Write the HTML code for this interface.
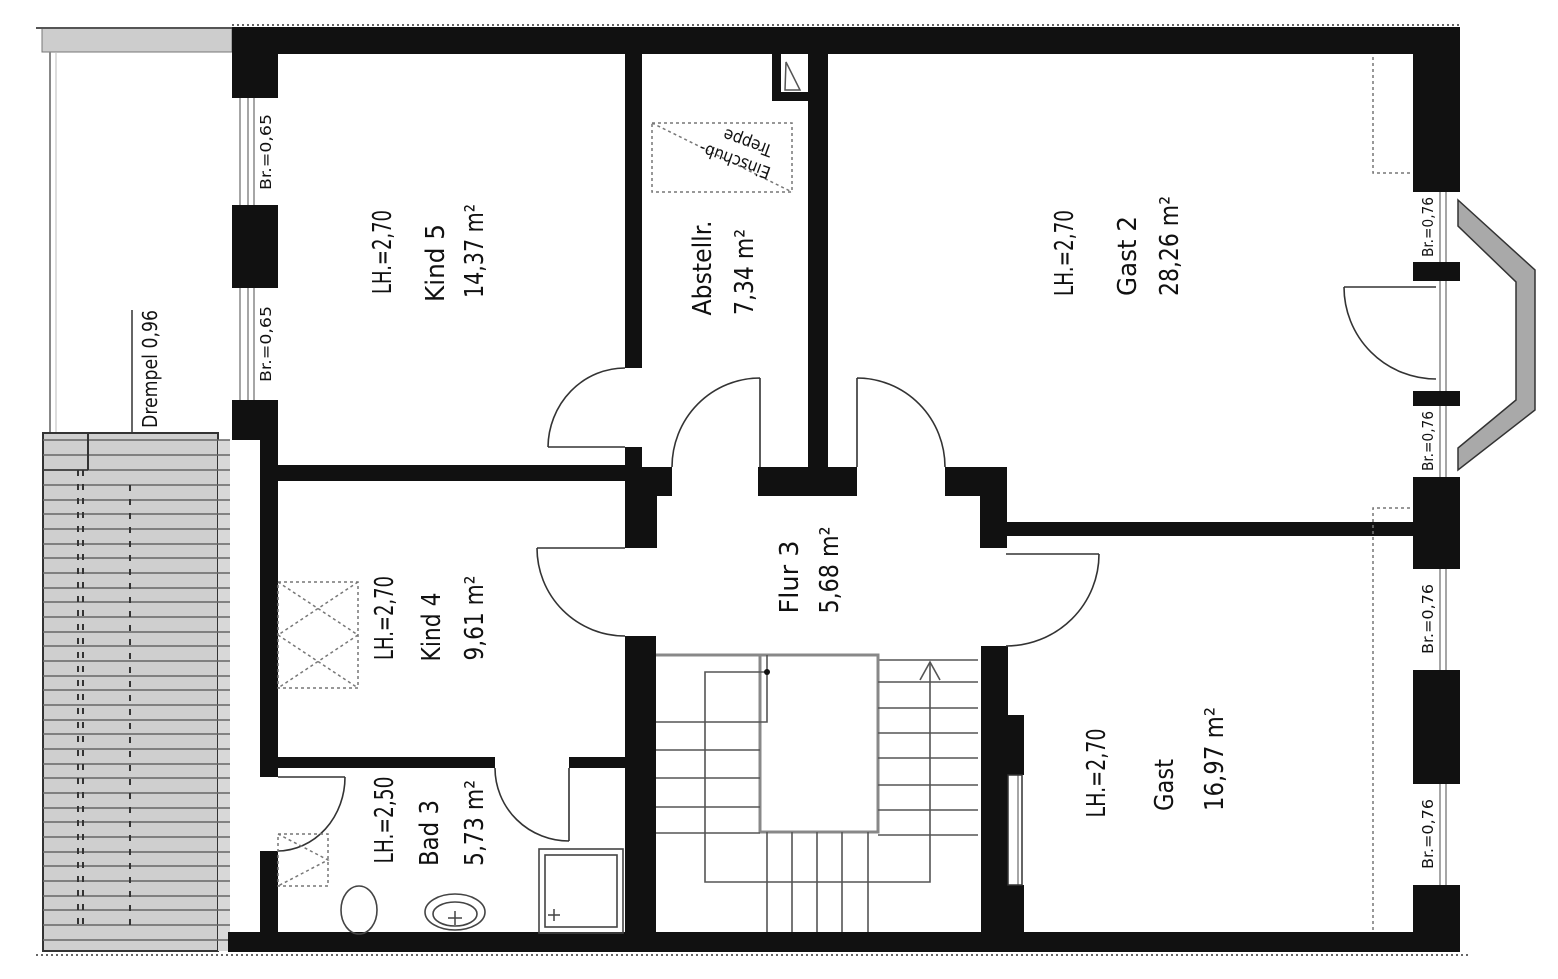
<!DOCTYPE html>
<html><head><meta charset="utf-8"><style>
html,body{margin:0;padding:0;background:#fff}
svg{display:block}
text{font-family:"Liberation Sans Narrow","DejaVu Sans Condensed","Liberation Sans",sans-serif;fill:#111}
</style></head><body>
<svg width="1558" height="979" viewBox="0 0 1558 979" xmlns="http://www.w3.org/2000/svg">
<rect width="1558" height="979" fill="#fff"/>
<!-- left roof area -->
<rect x="42" y="28" width="190" height="24" fill="#cdcdcd" stroke="#777" stroke-width="1"/>
<line x1="36" y1="28" x2="232" y2="28" stroke="#555" stroke-width="2"/>
<line x1="50" y1="52" x2="50" y2="433" stroke="#888" stroke-width="2"/>
<line x1="56" y1="52" x2="56" y2="433" stroke="#bbb" stroke-width="1"/>
<rect x="43" y="433" width="175" height="518" fill="#cfcfcf" stroke="#333" stroke-width="2"/>
<rect x="218" y="440" width="12" height="511" fill="#d8d8d8"/>
<g stroke="#666" stroke-width="1.5">
<line x1="43" y1="440" x2="230" y2="440"/><line x1="43" y1="455" x2="230" y2="455"/><line x1="43" y1="470" x2="230" y2="470"/><line x1="43" y1="485" x2="230" y2="485"/><line x1="43" y1="500" x2="230" y2="500"/><line x1="43" y1="514" x2="230" y2="514"/><line x1="43" y1="529" x2="230" y2="529"/><line x1="43" y1="544" x2="230" y2="544"/><line x1="43" y1="558" x2="230" y2="558"/><line x1="43" y1="573" x2="230" y2="573"/><line x1="43" y1="588" x2="230" y2="588"/><line x1="43" y1="602" x2="230" y2="602"/><line x1="43" y1="617" x2="230" y2="617"/><line x1="43" y1="632" x2="230" y2="632"/><line x1="43" y1="646" x2="230" y2="646"/><line x1="43" y1="661" x2="230" y2="661"/><line x1="43" y1="676" x2="230" y2="676"/><line x1="43" y1="690" x2="230" y2="690"/><line x1="43" y1="705" x2="230" y2="705"/><line x1="43" y1="720" x2="230" y2="720"/><line x1="43" y1="734" x2="230" y2="734"/><line x1="43" y1="749" x2="230" y2="749"/><line x1="43" y1="764" x2="230" y2="764"/><line x1="43" y1="778" x2="230" y2="778"/><line x1="43" y1="793" x2="230" y2="793"/><line x1="43" y1="808" x2="230" y2="808"/><line x1="43" y1="822" x2="230" y2="822"/><line x1="43" y1="837" x2="230" y2="837"/><line x1="43" y1="852" x2="230" y2="852"/><line x1="43" y1="866" x2="230" y2="866"/><line x1="43" y1="881" x2="230" y2="881"/><line x1="43" y1="896" x2="230" y2="896"/><line x1="43" y1="910" x2="230" y2="910"/><line x1="43" y1="925" x2="230" y2="925"/><line x1="43" y1="940" x2="230" y2="940"/>
</g>
<g stroke="#333" stroke-width="2" stroke-dasharray="6 8">
<line x1="78" y1="470" x2="78" y2="930"/><line x1="83" y1="470" x2="83" y2="930"/><line x1="130" y1="485" x2="130" y2="930"/>
</g>
<line x1="88" y1="433" x2="88" y2="470" stroke="#333" stroke-width="2"/>
<line x1="43" y1="470" x2="88" y2="470" stroke="#333" stroke-width="1.5"/>
<!-- Drempel -->
<line x1="132" y1="310" x2="132" y2="432" stroke="#333" stroke-width="1.5"/>
<text transform="translate(150,369) rotate(-90)" text-anchor="middle" dominant-baseline="central" font-size="20" textLength="118" lengthAdjust="spacingAndGlyphs">Drempel  0,96</text>

<!-- dotted outer lines -->
<line x1="232" y1="25" x2="1462" y2="25" stroke="#666" stroke-width="2" stroke-dasharray="2 3"/>
<line x1="36" y1="955" x2="1470" y2="955" stroke="#666" stroke-width="2" stroke-dasharray="2 3"/>

<g fill="#111">
<!-- top and bottom walls -->
<rect x="232" y="27" width="1228" height="27"/>
<rect x="228" y="932" width="1232" height="20"/>
<!-- left wall -->
<rect x="232" y="27" width="46" height="71"/>
<rect x="232" y="205" width="46" height="83"/>
<rect x="232" y="400" width="46" height="40"/>
<rect x="260" y="430" width="18" height="347"/>
<rect x="260" y="851" width="18" height="90"/>
<!-- right wall -->
<rect x="1413" y="27" width="47" height="165"/>
<rect x="1413" y="262" width="47" height="19"/>
<rect x="1413" y="391" width="47" height="15"/>
<rect x="1413" y="477" width="47" height="92"/>
<rect x="1413" y="670" width="47" height="114"/>
<rect x="1413" y="885" width="47" height="67"/>
<!-- interior -->
<rect x="625" y="54" width="17" height="314"/>
<rect x="625" y="447" width="17" height="22"/>
<rect x="278" y="465" width="350" height="16"/>
<polygon points="625,467 672,467 672,496 657,496 657,548 625,548"/>
<rect x="758" y="467" width="99" height="29"/>
<rect x="808" y="54" width="20" height="413"/>
<polygon points="945,467 1007,467 1007,548 980,548 980,496 945,496"/>
<rect x="1007" y="522" width="406" height="14"/>
<rect x="625" y="636" width="31" height="300"/>
<rect x="981" y="646" width="27" height="290"/>
<rect x="1008" y="715" width="16" height="60"/>
<rect x="1008" y="885" width="16" height="50"/>
<rect x="260" y="757" width="235" height="11"/>
<rect x="569" y="757" width="56" height="11"/>
<!-- chimney L -->
<rect x="772" y="54" width="9" height="47"/>
<rect x="772" y="92" width="36" height="9"/>
</g>
<path d="M786,62 L800,90 L785,90 Z" fill="none" stroke="#555" stroke-width="1.5"/>

<!-- windows left -->
<g stroke="#888" stroke-width="1.5">
<line x1="240" y1="98" x2="240" y2="205"/><line x1="248" y1="98" x2="248" y2="205"/><line x1="254" y1="98" x2="254" y2="205"/>
<line x1="240" y1="288" x2="240" y2="400"/><line x1="248" y1="288" x2="248" y2="400"/><line x1="254" y1="288" x2="254" y2="400"/>
<line x1="1440" y1="192" x2="1440" y2="262"/><line x1="1446" y1="192" x2="1446" y2="262"/>
<line x1="1440" y1="281" x2="1440" y2="391"/><line x1="1446" y1="281" x2="1446" y2="391"/>
<line x1="1440" y1="406" x2="1440" y2="477"/><line x1="1446" y1="406" x2="1446" y2="477"/>
<line x1="1440" y1="569" x2="1440" y2="670"/><line x1="1446" y1="569" x2="1446" y2="670"/>
<line x1="1440" y1="784" x2="1440" y2="885"/><line x1="1446" y1="784" x2="1446" y2="885"/>
<line x1="1018" y1="775" x2="1018" y2="885"/>
</g>
<rect x="1008" y="775" width="14" height="110" fill="none" stroke="#333" stroke-width="1.5"/>
<g font-size="15">
<text transform="translate(266,152) rotate(-90)" text-anchor="middle" dominant-baseline="central" textLength="76" lengthAdjust="spacingAndGlyphs">Br.=0,65</text>
<text transform="translate(266,344) rotate(-90)" text-anchor="middle" dominant-baseline="central" textLength="76" lengthAdjust="spacingAndGlyphs">Br.=0,65</text>
<text transform="translate(1428,227) rotate(-90)" text-anchor="middle" dominant-baseline="central" textLength="60" lengthAdjust="spacingAndGlyphs">Br.=0,76</text>
<text transform="translate(1428,441) rotate(-90)" text-anchor="middle" dominant-baseline="central" textLength="60" lengthAdjust="spacingAndGlyphs">Br.=0,76</text>
<text transform="translate(1428,619) rotate(-90)" text-anchor="middle" dominant-baseline="central" textLength="70" lengthAdjust="spacingAndGlyphs">Br.=0,76</text>
<text transform="translate(1428,834) rotate(-90)" text-anchor="middle" dominant-baseline="central" textLength="70" lengthAdjust="spacingAndGlyphs">Br.=0,76</text>
</g>
<!-- bay -->
<polygon points="1458,200 1535,270 1535,410 1458,470 1458,448 1516,400 1516,282 1458,226" fill="#a9a9a9" stroke="#333" stroke-width="1.5"/>

<!-- doors -->
<g fill="none" stroke="#333" stroke-width="1.6">
<path d="M548,447 L625,447 M548,447 A77,80 0 0 1 625,368"/>
<path d="M760,378 L760,467 M672,467 A88,89 0 0 1 760,378"/>
<path d="M857,378 L857,467 M857,378 A88,89 0 0 1 945,467"/>
<path d="M537,548 L625,548 M537,548 A88,88 0 0 0 625,636"/>
<path d="M1006,554 L1099,554 M1099,554 A93,92 0 0 1 1006,646"/>
<path d="M569,768 L569,841 M495,768 A74,73 0 0 0 569,841"/>
<path d="M278,777 L345,777 M345,777 A68,74 0 0 1 278,851"/>
<path d="M1344,287 L1436,287 M1344,287 A92,92 0 0 0 1436,379"/>
</g>

<!-- dashed -->
<g fill="none" stroke="#777" stroke-width="1.5" stroke-dasharray="3 3">
<path d="M1373,57 L1373,173 L1410,173"/>
<path d="M1410,508 L1373,508 L1373,930"/>
<rect x="652" y="123" width="140" height="69"/>
<line x1="652" y1="123" x2="792" y2="192"/>
<rect x="278" y="582" width="80" height="106"/>
<path d="M278,582 L358,635 L278,688 M358,582 L278,635 L358,688"/>
<rect x="278" y="834" width="50" height="52"/>
<path d="M278,834 L328,860 L278,886"/>
</g>
<g font-size="17">
<text transform="translate(735,160) rotate(200)" text-anchor="middle" dominant-baseline="central">Einschub-</text>
<text transform="translate(748,142) rotate(200)" text-anchor="middle" dominant-baseline="central">Treppe</text>
</g>

<!-- stairs -->
<g fill="none" stroke="#555" stroke-width="1.6">
<line x1="656" y1="655" x2="878" y2="655" stroke-width="3" stroke="#888"/>
<line x1="878" y1="660" x2="978" y2="660"/>
<rect x="760" y="655" width="118" height="177" stroke="#888" stroke-width="3"/>
<path d="M767,672 L705,672 L705,882 L930,882 L930,662"/>
<path d="M767,655 L767,722 L656,722"/>
<path d="M920,680 L930,662 L940,680"/>
<line x1="656" y1="750" x2="760" y2="750"/><line x1="656" y1="778" x2="760" y2="778"/><line x1="656" y1="807" x2="760" y2="807"/><line x1="656" y1="833" x2="760" y2="833"/>
<line x1="878" y1="682" x2="978" y2="682"/><line x1="878" y1="708" x2="978" y2="708"/><line x1="878" y1="733" x2="978" y2="733"/><line x1="878" y1="758" x2="978" y2="758"/><line x1="878" y1="785" x2="978" y2="785"/><line x1="878" y1="810" x2="978" y2="810"/><line x1="878" y1="835" x2="978" y2="835"/>
<line x1="767" y1="832" x2="767" y2="932"/><line x1="792" y1="832" x2="792" y2="932"/><line x1="817" y1="832" x2="817" y2="932"/><line x1="842" y1="832" x2="842" y2="932"/><line x1="868" y1="832" x2="868" y2="932"/>
</g>
<circle cx="767" cy="672" r="3" fill="#111"/>

<!-- bath fixtures -->
<g fill="none" stroke="#444" stroke-width="1.6">
<ellipse cx="359" cy="910" rx="18" ry="24"/>
<ellipse cx="455" cy="912" rx="30" ry="18"/>
<ellipse cx="455" cy="914" rx="22" ry="12"/>
<rect x="539" y="849" width="84" height="84"/>
<rect x="545" y="855" width="72" height="72"/>
</g>
<path d="M548,915 h12 M554,909 v12" stroke="#444" stroke-width="1.5"/>
<path d="M448,918 h14 M455,911 v14" stroke="#444" stroke-width="1.5"/>

<!-- room labels -->
<g font-size="26">
<text transform="translate(383,252) rotate(-90)" text-anchor="middle" dominant-baseline="central" textLength="84" lengthAdjust="spacingAndGlyphs">LH.=2,70</text>
<text transform="translate(436,263) rotate(-90)" text-anchor="middle" dominant-baseline="central" textLength="78" lengthAdjust="spacingAndGlyphs">Kind  5</text>
<text transform="translate(475,251) rotate(-90)" text-anchor="middle" dominant-baseline="central" textLength="94" lengthAdjust="spacingAndGlyphs">14,37  m²</text>

<text transform="translate(703,268) rotate(-90)" text-anchor="middle" dominant-baseline="central" textLength="95" lengthAdjust="spacingAndGlyphs">Abstellr.</text>
<text transform="translate(745,272) rotate(-90)" text-anchor="middle" dominant-baseline="central" textLength="86" lengthAdjust="spacingAndGlyphs">7,34  m²</text>

<text transform="translate(1065,253) rotate(-90)" text-anchor="middle" dominant-baseline="central" textLength="86" lengthAdjust="spacingAndGlyphs">LH.=2,70</text>
<text transform="translate(1128,256) rotate(-90)" text-anchor="middle" dominant-baseline="central" textLength="80" lengthAdjust="spacingAndGlyphs">Gast  2</text>
<text transform="translate(1170,246) rotate(-90)" text-anchor="middle" dominant-baseline="central" textLength="100" lengthAdjust="spacingAndGlyphs">28,26  m²</text>

<text transform="translate(790,577) rotate(-90)" text-anchor="middle" dominant-baseline="central" textLength="73" lengthAdjust="spacingAndGlyphs">Flur  3</text>
<text transform="translate(830,570) rotate(-90)" text-anchor="middle" dominant-baseline="central" textLength="87" lengthAdjust="spacingAndGlyphs">5,68  m²</text>

<text transform="translate(385,618) rotate(-90)" text-anchor="middle" dominant-baseline="central" textLength="84" lengthAdjust="spacingAndGlyphs">LH.=2,70</text>
<text transform="translate(432,627) rotate(-90)" text-anchor="middle" dominant-baseline="central" textLength="69" lengthAdjust="spacingAndGlyphs">Kind  4</text>
<text transform="translate(475,618) rotate(-90)" text-anchor="middle" dominant-baseline="central" textLength="85" lengthAdjust="spacingAndGlyphs">9,61  m²</text>

<text transform="translate(385,820) rotate(-90)" text-anchor="middle" dominant-baseline="central" textLength="87" lengthAdjust="spacingAndGlyphs">LH.=2,50</text>
<text transform="translate(430,833) rotate(-90)" text-anchor="middle" dominant-baseline="central" textLength="66" lengthAdjust="spacingAndGlyphs">Bad  3</text>
<text transform="translate(475,823) rotate(-90)" text-anchor="middle" dominant-baseline="central" textLength="86" lengthAdjust="spacingAndGlyphs">5,73  m²</text>

<text transform="translate(1097,773) rotate(-90)" text-anchor="middle" dominant-baseline="central" textLength="89" lengthAdjust="spacingAndGlyphs">LH.=2,70</text>
<text transform="translate(1165,785) rotate(-90)" text-anchor="middle" dominant-baseline="central" textLength="52" lengthAdjust="spacingAndGlyphs">Gast</text>
<text transform="translate(1215,759) rotate(-90)" text-anchor="middle" dominant-baseline="central" textLength="104" lengthAdjust="spacingAndGlyphs">16,97  m²</text>
</g>
</svg>
</body></html>
